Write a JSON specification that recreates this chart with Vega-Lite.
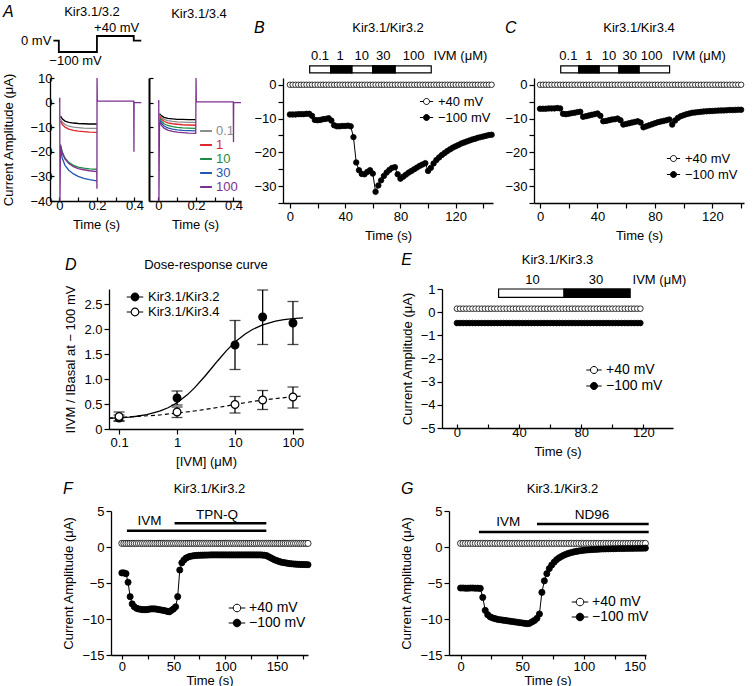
{
"$schema": "https://vega.github.io/schema/vega-lite/v6.json",
"padding": {"left": 2, "top": 4, "right": 0, "bottom": 0},
"config": {
  "font": "Liberation Sans",
  "view": {"stroke": null},
  "axis": {"grid": false, "domainColor": "black", "domainWidth": 1.3, "tickColor": "black", "tickWidth": 1.2, "tickSize": 5, "labelColor": "black", "labelFontSize": 13, "labelFont": "Liberation Sans", "titleColor": "black", "titleFontSize": 13, "titleFontWeight": "normal", "titleFont": "Liberation Sans", "labelPadding": 2, "titlePadding": 6, "labelOverlap": false},
  "axisX": {"titleFontWeight": "normal"},
  "axisY": {"titleFontWeight": "normal"},
  "legend": {"labelFont": "Liberation Sans", "labelFontSize": 13, "labelColor": "black"},
  "title": {"font": "Liberation Sans", "fontSize": 13, "fontWeight": "normal", "color": "black"},
  "text": {"font": "Liberation Sans", "fill": "black"}
},
"datasets": {
  "proto": [{"t":-0.032,"mv":0},{"t":-0.003,"mv":0},{"t":-0.0029,"mv":-100},{"t":0.2,"mv":-100},{"t":0.2001,"mv":40},{"t":0.396,"mv":40},{"t":0.3961,"mv":0},{"t":0.436,"mv":0}],
  "A1": [
    {"t":0.006,"i":-5.5,"c":"basal"},{"t":0.015,"i":-6.6,"c":"basal"},{"t":0.03,"i":-7.5,"c":"basal"},{"t":0.05,"i":-8,"c":"basal"},{"t":0.075,"i":-8.3,"c":"basal"},{"t":0.1,"i":-8.5,"c":"basal"},{"t":0.13,"i":-8.6,"c":"basal"},{"t":0.16,"i":-8.7,"c":"basal"},{"t":0.199,"i":-8.7,"c":"basal"},
    {"t":0.006,"i":-6.8,"c":"0.1"},{"t":0.015,"i":-7.9,"c":"0.1"},{"t":0.03,"i":-8.9,"c":"0.1"},{"t":0.05,"i":-9.6,"c":"0.1"},{"t":0.075,"i":-10,"c":"0.1"},{"t":0.1,"i":-10.2,"c":"0.1"},{"t":0.13,"i":-10.4,"c":"0.1"},{"t":0.16,"i":-10.5,"c":"0.1"},{"t":0.199,"i":-10.5,"c":"0.1"},
    {"t":0.006,"i":-7.5,"c":"1"},{"t":0.015,"i":-8.8,"c":"1"},{"t":0.03,"i":-10,"c":"1"},{"t":0.05,"i":-10.8,"c":"1"},{"t":0.075,"i":-11.3,"c":"1"},{"t":0.1,"i":-11.6,"c":"1"},{"t":0.13,"i":-11.8,"c":"1"},{"t":0.16,"i":-12,"c":"1"},{"t":0.199,"i":-12.1,"c":"1"},
    {"t":0.006,"i":-17,"c":"10"},{"t":0.015,"i":-20,"c":"10"},{"t":0.03,"i":-22.5,"c":"10"},{"t":0.05,"i":-24.3,"c":"10"},{"t":0.075,"i":-25.5,"c":"10"},{"t":0.1,"i":-26.2,"c":"10"},{"t":0.13,"i":-26.6,"c":"10"},{"t":0.16,"i":-26.9,"c":"10"},{"t":0.199,"i":-27.1,"c":"10"},
    {"t":0.006,"i":-19,"c":"30"},{"t":0.015,"i":-22.5,"c":"30"},{"t":0.03,"i":-25.5,"c":"30"},{"t":0.05,"i":-27.5,"c":"30"},{"t":0.075,"i":-29,"c":"30"},{"t":0.1,"i":-30,"c":"30"},{"t":0.13,"i":-30.8,"c":"30"},{"t":0.16,"i":-31.3,"c":"30"},{"t":0.199,"i":-31.8,"c":"30"},
    {"t":0.001,"i":0,"c":"100"},{"t":0.002,"i":2,"c":"100"},{"t":0.003,"i":-40,"c":"100"},{"t":0.006,"i":-17.5,"c":"100"},{"t":0.015,"i":-20.5,"c":"100"},{"t":0.03,"i":-23,"c":"100"},{"t":0.05,"i":-24.8,"c":"100"},{"t":0.075,"i":-26,"c":"100"},{"t":0.1,"i":-26.8,"c":"100"},{"t":0.13,"i":-27.3,"c":"100"},{"t":0.16,"i":-27.7,"c":"100"},{"t":0.199,"i":-28,"c":"100"},{"t":0.2,"i":-35,"c":"100"},{"t":0.2005,"i":10,"c":"100"},{"t":0.202,"i":0.6,"c":"100"},{"t":0.396,"i":0.6,"c":"100"},{"t":0.397,"i":-20,"c":"100"},{"t":0.398,"i":0,"c":"100"},{"t":0.436,"i":0,"c":"100"}
  ],
  "A2": [
    {"t":0.006,"i":-4.5,"c":"basal"},{"t":0.015,"i":-5.3,"c":"basal"},{"t":0.03,"i":-6,"c":"basal"},{"t":0.05,"i":-6.4,"c":"basal"},{"t":0.075,"i":-6.6,"c":"basal"},{"t":0.1,"i":-6.8,"c":"basal"},{"t":0.13,"i":-6.85,"c":"basal"},{"t":0.16,"i":-6.9,"c":"basal"},{"t":0.199,"i":-6.9,"c":"basal"},
    {"t":0.006,"i":-5,"c":"0.1"},{"t":0.015,"i":-6,"c":"0.1"},{"t":0.03,"i":-6.8,"c":"0.1"},{"t":0.05,"i":-7.3,"c":"0.1"},{"t":0.075,"i":-7.6,"c":"0.1"},{"t":0.1,"i":-7.8,"c":"0.1"},{"t":0.13,"i":-7.9,"c":"0.1"},{"t":0.16,"i":-8,"c":"0.1"},{"t":0.199,"i":-8,"c":"0.1"},
    {"t":0.006,"i":-5.6,"c":"1"},{"t":0.015,"i":-6.7,"c":"1"},{"t":0.03,"i":-7.6,"c":"1"},{"t":0.05,"i":-8.2,"c":"1"},{"t":0.075,"i":-8.6,"c":"1"},{"t":0.1,"i":-8.8,"c":"1"},{"t":0.13,"i":-9,"c":"1"},{"t":0.16,"i":-9.1,"c":"1"},{"t":0.199,"i":-9.2,"c":"1"},
    {"t":0.006,"i":-6.3,"c":"10"},{"t":0.015,"i":-7.5,"c":"10"},{"t":0.03,"i":-8.6,"c":"10"},{"t":0.05,"i":-9.3,"c":"10"},{"t":0.075,"i":-9.8,"c":"10"},{"t":0.1,"i":-10.1,"c":"10"},{"t":0.13,"i":-10.3,"c":"10"},{"t":0.16,"i":-10.4,"c":"10"},{"t":0.199,"i":-10.5,"c":"10"},
    {"t":0.006,"i":-7,"c":"30"},{"t":0.015,"i":-8.3,"c":"30"},{"t":0.03,"i":-9.5,"c":"30"},{"t":0.05,"i":-10.3,"c":"30"},{"t":0.075,"i":-10.8,"c":"30"},{"t":0.1,"i":-11.1,"c":"30"},{"t":0.13,"i":-11.3,"c":"30"},{"t":0.16,"i":-11.4,"c":"30"},{"t":0.199,"i":-11.5,"c":"30"},
    {"t":0.001,"i":0,"c":"100"},{"t":0.002,"i":1,"c":"100"},{"t":0.003,"i":-40,"c":"100"},{"t":0.006,"i":-7.8,"c":"100"},{"t":0.015,"i":-9.2,"c":"100"},{"t":0.03,"i":-10.4,"c":"100"},{"t":0.05,"i":-11.2,"c":"100"},{"t":0.075,"i":-11.7,"c":"100"},{"t":0.1,"i":-12,"c":"100"},{"t":0.13,"i":-12.2,"c":"100"},{"t":0.16,"i":-12.4,"c":"100"},{"t":0.199,"i":-12.5,"c":"100"},{"t":0.2005,"i":10,"c":"100"},{"t":0.202,"i":0.3,"c":"100"},{"t":0.399,"i":0.3,"c":"100"},{"t":0.4,"i":-16,"c":"100"},{"t":0.401,"i":0,"c":"100"},{"t":0.44,"i":0,"c":"100"}
  ],
  "segB": [{"a":14.3,"b":29.6,"c":"0.1","m":21.8,"k":0},{"a":29.6,"b":44.8,"c":"1","m":36.4,"k":1},{"a":44.8,"b":59.9,"c":"10","m":52,"k":0},{"a":59.9,"b":76.1,"c":"30","m":67.6,"k":1},{"a":76.1,"b":102.3,"c":"100","m":89.5,"k":0}],
  "segC": [{"a":14.4,"b":27.1,"c":"0.1","m":19.7,"k":0},{"a":27.1,"b":41.1,"c":"1","m":34,"k":1},{"a":41.1,"b":55,"c":"10","m":48,"k":0},{"a":55,"b":68.9,"c":"30","m":62.4,"k":1},{"a":68.9,"b":90.2,"c":"100","m":77.7,"k":0}],
  "segE": [{"a":26.8,"b":69,"c":"10","m":48.6,"k":0},{"a":69,"b":111.3,"c":"30","m":89.4,"k":1}],
  "B": [{"t":0,"p":0,"m":-8.8},{"t":2,"p":0,"m":-8.8},{"t":4,"p":0,"m":-8.8},{"t":6,"p":0,"m":-8.7},{"t":8,"p":0,"m":-8.7},{"t":10,"p":0,"m":-8.7},{"t":12,"p":0,"m":-8.6},{"t":14,"p":0,"m":-8.6},{"t":16,"p":0,"m":-9.2},{"t":18,"p":0,"m":-10.4},{"t":20,"p":0,"m":-10.5},{"t":22,"p":0,"m":-10.4},{"t":24,"p":0,"m":-10.2},{"t":26,"p":0,"m":-10.1},{"t":28,"p":0,"m":-9.9},{"t":30,"p":0,"m":-10.6},{"t":32,"p":0,"m":-12},{"t":34,"p":0,"m":-12.3},{"t":36,"p":0,"m":-12.3},{"t":38,"p":0,"m":-12.2},{"t":40,"p":0,"m":-12.2},{"t":42,"p":0,"m":-12.1},{"t":44,"p":0,"m":-12.3},{"t":46,"p":0,"m":-15.5},{"t":48,"p":0,"m":-23},{"t":50,"p":0,"m":-25.3},{"t":52,"p":0,"m":-26.4},{"t":54,"p":0,"m":-26.5},{"t":56,"p":0,"m":-25.8},{"t":58,"p":0,"m":-25.3},{"t":60,"p":0,"m":-26.3},{"t":62,"p":0,"m":-31.7},{"t":64,"p":0,"m":-29.8},{"t":66,"p":0,"m":-28.3},{"t":68,"p":0,"m":-27},{"t":70,"p":0,"m":-26},{"t":72,"p":0,"m":-25.2},{"t":74,"p":0,"m":-24.6},{"t":76,"p":0,"m":-24.4},{"t":78,"p":0,"m":-26.5},{"t":80,"p":0,"m":-27.8},{"t":82,"p":0,"m":-27.2},{"t":84,"p":0,"m":-26.6},{"t":86,"p":0,"m":-26},{"t":88,"p":0,"m":-25.5},{"t":90,"p":0,"m":-25},{"t":92,"p":0,"m":-24.5},{"t":94,"p":0,"m":-24},{"t":96,"p":0,"m":-23.6},{"t":98,"p":0,"m":-23.2},{"t":100,"p":0,"m":-25.5},{"t":102,"p":0,"m":-24.6},{"t":104,"p":0,"m":-23.3},{"t":106,"p":0,"m":-22.3},{"t":108,"p":0,"m":-21.5},{"t":110,"p":0,"m":-20.8},{"t":112,"p":0,"m":-20.2},{"t":114,"p":0,"m":-19.6},{"t":116,"p":0,"m":-19.1},{"t":118,"p":0,"m":-18.6},{"t":120,"p":0,"m":-18.2},{"t":122,"p":0,"m":-17.8},{"t":124,"p":0,"m":-17.4},{"t":126,"p":0,"m":-17.1},{"t":128,"p":0,"m":-16.8},{"t":130,"p":0,"m":-16.5},{"t":132,"p":0,"m":-16.2},{"t":134,"p":0,"m":-16},{"t":136,"p":0,"m":-15.7},{"t":138,"p":0,"m":-15.5},{"t":140,"p":0,"m":-15.3},{"t":142,"p":0,"m":-15.1},{"t":144,"p":0,"m":-14.9},{"t":146,"p":0,"m":-14.8}],
  "C": [{"t":0,"p":0,"m":-7.1},{"t":2,"p":0,"m":-7.1},{"t":4,"p":0,"m":-7.1},{"t":6,"p":0,"m":-7},{"t":8,"p":0,"m":-7},{"t":10,"p":0,"m":-7},{"t":12,"p":0,"m":-6.9},{"t":14,"p":0,"m":-7},{"t":16,"p":0,"m":-8.6},{"t":18,"p":0,"m":-8.7},{"t":20,"p":0,"m":-8.6},{"t":22,"p":0,"m":-8.4},{"t":24,"p":0,"m":-8.3},{"t":26,"p":0,"m":-8.1},{"t":28,"p":0,"m":-8},{"t":30,"p":0,"m":-9.5},{"t":32,"p":0,"m":-9.3},{"t":34,"p":0,"m":-9.1},{"t":36,"p":0,"m":-8.9},{"t":38,"p":0,"m":-8.7},{"t":40,"p":0,"m":-8.5},{"t":42,"p":0,"m":-9.2},{"t":44,"p":0,"m":-10.8},{"t":46,"p":0,"m":-10.7},{"t":48,"p":0,"m":-10.5},{"t":50,"p":0,"m":-10.3},{"t":52,"p":0,"m":-10.2},{"t":54,"p":0,"m":-10},{"t":56,"p":0,"m":-10.5},{"t":58,"p":0,"m":-11.8},{"t":60,"p":0,"m":-11.6},{"t":62,"p":0,"m":-11.4},{"t":64,"p":0,"m":-11.2},{"t":66,"p":0,"m":-11},{"t":68,"p":0,"m":-10.8},{"t":70,"p":0,"m":-11.2},{"t":72,"p":0,"m":-12.6},{"t":74,"p":0,"m":-12.3},{"t":76,"p":0,"m":-12},{"t":78,"p":0,"m":-11.7},{"t":80,"p":0,"m":-11.4},{"t":82,"p":0,"m":-11.1},{"t":84,"p":0,"m":-10.9},{"t":86,"p":0,"m":-10.7},{"t":88,"p":0,"m":-10.5},{"t":90,"p":0,"m":-10.3},{"t":92,"p":0,"m":-11.8},{"t":94,"p":0,"m":-10.6},{"t":96,"p":0,"m":-9.8},{"t":98,"p":0,"m":-9.3},{"t":100,"p":0,"m":-9},{"t":102,"p":0,"m":-8.7},{"t":104,"p":0,"m":-8.5},{"t":106,"p":0,"m":-8.3},{"t":108,"p":0,"m":-8.2},{"t":110,"p":0,"m":-8.1},{"t":112,"p":0,"m":-8},{"t":114,"p":0,"m":-7.9},{"t":116,"p":0,"m":-7.85},{"t":118,"p":0,"m":-7.8},{"t":120,"p":0,"m":-7.75},{"t":122,"p":0,"m":-7.7},{"t":124,"p":0,"m":-7.65},{"t":126,"p":0,"m":-7.6},{"t":128,"p":0,"m":-7.6},{"t":130,"p":0,"m":-7.55},{"t":132,"p":0,"m":-7.5},{"t":134,"p":0,"m":-7.5},{"t":136,"p":0,"m":-7.45},{"t":138,"p":0,"m":-7.4},{"t":140,"p":0,"m":-7.4}],
  "E": [{"t":0,"p":0.15,"m":-0.47},{"t":2,"p":0.15,"m":-0.47},{"t":4,"p":0.15,"m":-0.47},{"t":6,"p":0.15,"m":-0.47},{"t":8,"p":0.15,"m":-0.47},{"t":10,"p":0.15,"m":-0.47},{"t":12,"p":0.15,"m":-0.47},{"t":14,"p":0.15,"m":-0.47},{"t":16,"p":0.15,"m":-0.47},{"t":18,"p":0.15,"m":-0.47},{"t":20,"p":0.15,"m":-0.47},{"t":22,"p":0.15,"m":-0.47},{"t":24,"p":0.15,"m":-0.47},{"t":26,"p":0.15,"m":-0.47},{"t":28,"p":0.15,"m":-0.47},{"t":30,"p":0.15,"m":-0.47},{"t":32,"p":0.15,"m":-0.47},{"t":34,"p":0.15,"m":-0.47},{"t":36,"p":0.15,"m":-0.47},{"t":38,"p":0.15,"m":-0.47},{"t":40,"p":0.15,"m":-0.47},{"t":42,"p":0.15,"m":-0.47},{"t":44,"p":0.15,"m":-0.47},{"t":46,"p":0.15,"m":-0.47},{"t":48,"p":0.15,"m":-0.47},{"t":50,"p":0.15,"m":-0.47},{"t":52,"p":0.15,"m":-0.47},{"t":54,"p":0.15,"m":-0.47},{"t":56,"p":0.15,"m":-0.47},{"t":58,"p":0.15,"m":-0.47},{"t":60,"p":0.15,"m":-0.47},{"t":62,"p":0.15,"m":-0.47},{"t":64,"p":0.15,"m":-0.47},{"t":66,"p":0.15,"m":-0.47},{"t":68,"p":0.15,"m":-0.47},{"t":70,"p":0.15,"m":-0.47},{"t":72,"p":0.15,"m":-0.47},{"t":74,"p":0.15,"m":-0.47},{"t":76,"p":0.15,"m":-0.47},{"t":78,"p":0.15,"m":-0.47},{"t":80,"p":0.15,"m":-0.47},{"t":82,"p":0.15,"m":-0.47},{"t":84,"p":0.15,"m":-0.47},{"t":86,"p":0.15,"m":-0.47},{"t":88,"p":0.15,"m":-0.47},{"t":90,"p":0.15,"m":-0.47},{"t":92,"p":0.15,"m":-0.47},{"t":94,"p":0.15,"m":-0.47},{"t":96,"p":0.15,"m":-0.47},{"t":98,"p":0.15,"m":-0.47},{"t":100,"p":0.15,"m":-0.47},{"t":102,"p":0.15,"m":-0.47},{"t":104,"p":0.15,"m":-0.47},{"t":106,"p":0.15,"m":-0.47},{"t":108,"p":0.15,"m":-0.47},{"t":110,"p":0.15,"m":-0.47},{"t":112,"p":0.15,"m":-0.47},{"t":114,"p":0.15,"m":-0.47},{"t":116,"p":0.15,"m":-0.47},{"t":118,"p":0.15,"m":-0.47}],
  "F": [{"t":0,"p":0.5,"m":-3.6},{"t":2,"p":0.5,"m":-3.6},{"t":4,"p":0.5,"m":-3.7},{"t":6,"p":0.5,"m":-4.9},{"t":8,"p":0.5,"m":-6.9},{"t":10,"p":0.5,"m":-7.9},{"t":12,"p":0.5,"m":-8.3},{"t":14,"p":0.5,"m":-8.5},{"t":16,"p":0.5,"m":-8.6},{"t":18,"p":0.5,"m":-8.65},{"t":20,"p":0.5,"m":-8.7},{"t":22,"p":0.5,"m":-8.7},{"t":24,"p":0.5,"m":-8.7},{"t":26,"p":0.5,"m":-8.65},{"t":28,"p":0.5,"m":-8.6},{"t":30,"p":0.5,"m":-8.6},{"t":32,"p":0.5,"m":-8.6},{"t":34,"p":0.5,"m":-8.65},{"t":36,"p":0.5,"m":-8.7},{"t":38,"p":0.5,"m":-8.75},{"t":40,"p":0.5,"m":-8.8},{"t":42,"p":0.5,"m":-8.85},{"t":44,"p":0.5,"m":-8.95},{"t":46,"p":0.5,"m":-9},{"t":48,"p":0.5,"m":-8.8},{"t":50,"p":0.5,"m":-8.6},{"t":52,"p":0.5,"m":-8.3},{"t":54,"p":0.5,"m":-6.9},{"t":56,"p":0.5,"m":-3.2},{"t":58,"p":0.5,"m":-2.2},{"t":60,"p":0.5,"m":-1.8},{"t":62,"p":0.5,"m":-1.55},{"t":64,"p":0.5,"m":-1.4},{"t":66,"p":0.5,"m":-1.3},{"t":68,"p":0.5,"m":-1.25},{"t":70,"p":0.5,"m":-1.2},{"t":72,"p":0.5,"m":-1.17},{"t":74,"p":0.5,"m":-1.15},{"t":76,"p":0.5,"m":-1.14},{"t":78,"p":0.5,"m":-1.13},{"t":80,"p":0.5,"m":-1.12},{"t":82,"p":0.5,"m":-1.12},{"t":84,"p":0.5,"m":-1.11},{"t":86,"p":0.5,"m":-1.1},{"t":88,"p":0.5,"m":-1.1},{"t":90,"p":0.5,"m":-1.1},{"t":92,"p":0.5,"m":-1.1},{"t":94,"p":0.5,"m":-1.1},{"t":96,"p":0.5,"m":-1.1},{"t":98,"p":0.5,"m":-1.1},{"t":100,"p":0.5,"m":-1.1},{"t":102,"p":0.5,"m":-1.1},{"t":104,"p":0.5,"m":-1.1},{"t":106,"p":0.5,"m":-1.1},{"t":108,"p":0.5,"m":-1.1},{"t":110,"p":0.5,"m":-1.1},{"t":112,"p":0.5,"m":-1.1},{"t":114,"p":0.5,"m":-1.1},{"t":116,"p":0.5,"m":-1.1},{"t":118,"p":0.5,"m":-1.1},{"t":120,"p":0.5,"m":-1.1},{"t":122,"p":0.5,"m":-1.1},{"t":124,"p":0.5,"m":-1.1},{"t":126,"p":0.5,"m":-1.1},{"t":128,"p":0.5,"m":-1.1},{"t":130,"p":0.5,"m":-1.1},{"t":132,"p":0.5,"m":-1.1},{"t":134,"p":0.5,"m":-1.1},{"t":136,"p":0.5,"m":-1.12},{"t":138,"p":0.5,"m":-1.15},{"t":140,"p":0.5,"m":-1.2},{"t":142,"p":0.5,"m":-1.35},{"t":144,"p":0.5,"m":-1.5},{"t":146,"p":0.5,"m":-1.65},{"t":148,"p":0.5,"m":-1.8},{"t":150,"p":0.5,"m":-1.9},{"t":152,"p":0.5,"m":-2},{"t":154,"p":0.5,"m":-2.1},{"t":156,"p":0.5,"m":-2.15},{"t":158,"p":0.5,"m":-2.2},{"t":160,"p":0.5,"m":-2.25},{"t":162,"p":0.5,"m":-2.3},{"t":164,"p":0.5,"m":-2.33},{"t":166,"p":0.5,"m":-2.36},{"t":168,"p":0.5,"m":-2.38},{"t":170,"p":0.5,"m":-2.4},{"t":172,"p":0.5,"m":-2.42},{"t":174,"p":0.5,"m":-2.43},{"t":176,"p":0.5,"m":-2.44},{"t":178,"p":0.5,"m":-2.45},{"t":180,"p":0.5,"m":-2.46}],
  "G": [{"t":0,"p":0.5,"m":-5.7},{"t":2,"p":0.5,"m":-5.7},{"t":4,"p":0.5,"m":-5.72},{"t":6,"p":0.5,"m":-5.72},{"t":8,"p":0.5,"m":-5.7},{"t":10,"p":0.5,"m":-5.7},{"t":12,"p":0.5,"m":-5.72},{"t":14,"p":0.5,"m":-5.72},{"t":16,"p":0.5,"m":-5.75},{"t":18,"p":0.5,"m":-7},{"t":20,"p":0.5,"m":-8.8},{"t":22,"p":0.5,"m":-9.4},{"t":24,"p":0.5,"m":-9.7},{"t":26,"p":0.5,"m":-9.85},{"t":28,"p":0.5,"m":-9.95},{"t":30,"p":0.5,"m":-10.05},{"t":32,"p":0.5,"m":-10.1},{"t":34,"p":0.5,"m":-10.15},{"t":36,"p":0.5,"m":-10.2},{"t":38,"p":0.5,"m":-10.25},{"t":40,"p":0.5,"m":-10.3},{"t":42,"p":0.5,"m":-10.35},{"t":44,"p":0.5,"m":-10.4},{"t":46,"p":0.5,"m":-10.45},{"t":48,"p":0.5,"m":-10.5},{"t":50,"p":0.5,"m":-10.55},{"t":52,"p":0.5,"m":-10.6},{"t":54,"p":0.5,"m":-10.65},{"t":56,"p":0.5,"m":-10.6},{"t":58,"p":0.5,"m":-10.4},{"t":60,"p":0.5,"m":-10.2},{"t":62,"p":0.5,"m":-9.9},{"t":64,"p":0.5,"m":-9.3},{"t":66,"p":0.5,"m":-6.3},{"t":68,"p":0.5,"m":-4.7},{"t":70,"p":0.5,"m":-3.7},{"t":72,"p":0.5,"m":-3},{"t":74,"p":0.5,"m":-2.5},{"t":76,"p":0.5,"m":-2.1},{"t":78,"p":0.5,"m":-1.75},{"t":80,"p":0.5,"m":-1.5},{"t":82,"p":0.5,"m":-1.3},{"t":84,"p":0.5,"m":-1.12},{"t":86,"p":0.5,"m":-0.98},{"t":88,"p":0.5,"m":-0.86},{"t":90,"p":0.5,"m":-0.76},{"t":92,"p":0.5,"m":-0.68},{"t":94,"p":0.5,"m":-0.61},{"t":96,"p":0.5,"m":-0.55},{"t":98,"p":0.5,"m":-0.5},{"t":100,"p":0.5,"m":-0.45},{"t":102,"p":0.5,"m":-0.42},{"t":104,"p":0.5,"m":-0.39},{"t":106,"p":0.5,"m":-0.36},{"t":108,"p":0.5,"m":-0.34},{"t":110,"p":0.5,"m":-0.32},{"t":112,"p":0.5,"m":-0.3},{"t":114,"p":0.5,"m":-0.28},{"t":116,"p":0.5,"m":-0.27},{"t":118,"p":0.5,"m":-0.26},{"t":120,"p":0.5,"m":-0.25},{"t":122,"p":0.5,"m":-0.24},{"t":124,"p":0.5,"m":-0.23},{"t":126,"p":0.5,"m":-0.22},{"t":128,"p":0.5,"m":-0.21},{"t":130,"p":0.5,"m":-0.2},{"t":132,"p":0.5,"m":-0.2},{"t":134,"p":0.5,"m":-0.19},{"t":136,"p":0.5,"m":-0.19},{"t":138,"p":0.5,"m":-0.18},{"t":140,"p":0.5,"m":-0.18},{"t":142,"p":0.5,"m":-0.17},{"t":144,"p":0.5,"m":-0.17},{"t":146,"p":0.5,"m":-0.16},{"t":148,"p":0.5,"m":-0.16},{"t":150,"p":0.5,"m":-0.15}],
  "dpts": [{"x":0.1,"y":0.22,"lo":0.16,"hi":0.28,"g":"Kir3.1/Kir3.2"},{"x":1,"y":0.62,"lo":0.48,"hi":0.76,"g":"Kir3.1/Kir3.2"},{"x":10,"y":1.68,"lo":1.19,"hi":2.17,"g":"Kir3.1/Kir3.2"},{"x":30,"y":2.24,"lo":1.69,"hi":2.78,"g":"Kir3.1/Kir3.2"},{"x":100,"y":2.12,"lo":1.69,"hi":2.55,"g":"Kir3.1/Kir3.2"},{"x":0.1,"y":0.25,"lo":0.16,"hi":0.34,"g":"Kir3.1/Kir3.4"},{"x":1,"y":0.34,"lo":0.23,"hi":0.44,"g":"Kir3.1/Kir3.4"},{"x":10,"y":0.49,"lo":0.32,"hi":0.65,"g":"Kir3.1/Kir3.4"},{"x":30,"y":0.58,"lo":0.39,"hi":0.77,"g":"Kir3.1/Kir3.4"},{"x":100,"y":0.64,"lo":0.42,"hi":0.84,"g":"Kir3.1/Kir3.4"}],
  "fit": [{"x":0.067,"y":0.215,"g":"s"},{"x":0.1,"y":0.224,"g":"s"},{"x":0.15,"y":0.239,"g":"s"},{"x":0.2,"y":0.255,"g":"s"},{"x":0.3,"y":0.288,"g":"s"},{"x":0.5,"y":0.356,"g":"s"},{"x":0.7,"y":0.425,"g":"s"},{"x":1,"y":0.526,"g":"s"},{"x":1.5,"y":0.683,"g":"s"},{"x":2,"y":0.822,"g":"s"},{"x":3,"y":1.05,"g":"s"},{"x":4,"y":1.225,"g":"s"},{"x":5,"y":1.361,"g":"s"},{"x":7,"y":1.557,"g":"s"},{"x":10,"y":1.738,"g":"s"},{"x":15,"y":1.901,"g":"s"},{"x":20,"y":1.99,"g":"s"},{"x":30,"y":2.082,"g":"s"},{"x":50,"y":2.156,"g":"s"},{"x":70,"y":2.186,"g":"s"},{"x":100,"y":2.208,"g":"s"},{"x":149,"y":2.224,"g":"s"},
    {"x":0.067,"y":0.22,"g":"d"},{"x":0.1,"y":0.23,"g":"d"},{"x":0.2,"y":0.25,"g":"d"},{"x":0.5,"y":0.28,"g":"d"},{"x":1,"y":0.32,"g":"d"},{"x":2,"y":0.36,"g":"d"},{"x":5,"y":0.43,"g":"d"},{"x":10,"y":0.49,"g":"d"},{"x":20,"y":0.55,"g":"d"},{"x":30,"y":0.58,"g":"d"},{"x":50,"y":0.61,"g":"d"},{"x":100,"y":0.645,"g":"d"},{"x":149,"y":0.66,"g":"d"}]
},
"spacing": 10,
"resolve": {"scale": {"x":"independent","y":"independent","fill":"independent","color":"independent"}, "legend": {"fill":"independent","color":"independent"}},
"vconcat": [
 {
  "spacing": 10,
  "resolve": {"scale": {"x":"independent","y":"independent","fill":"independent","color":"independent"}, "legend": {"fill":"independent","color":"independent"}},
  "hconcat": [
   {
    "title": {"text": "A", "anchor": "start", "fontSize": 16, "fontStyle": "italic", "offset": -14},
    "spacing": 3,
    "resolve": {"scale": {"x":"independent","y":"independent","fill":"independent","color":"independent"}, "legend": {"fill":"independent","color":"independent"}},
    "hconcat": [
     {
      "width": 92, "height": 123,
      "title": {"text": "Kir3.1/3.2", "anchor": "middle", "frame": "group", "dx": -4, "offset": 3},
      "resolve": {"scale": {"y": "independent"}, "axis": {"y": "independent"}},
      "layer": [
       {
        "data": {"name": "A1"},
        "layer": [
         {"transform": [{"filter": "datum.c == 'basal'"}], "mark": {"type": "line", "stroke": "black", "strokeWidth": 1.3, "clip": true},
          "encoding": {
           "x": {"field": "t", "type": "quantitative", "title": "Time (s)", "scale": {"domain": [-0.05, 0.44], "nice": false, "zero": false}, "axis": {"values": [0, 0.1, 0.2, 0.3, 0.4], "tickCount": 50, "labelExpr": "datum.value == 0 ? '0' : (abs(datum.value - 0.2) < 0.001 || abs(datum.value - 0.4) < 0.001) ? format(datum.value, '.1f') : ''", "tickSize": -4}},
           "y": {"field": "i", "type": "quantitative", "title": "Current Amplitude (μA)", "scale": {"domain": [-40, 10], "nice": false, "zero": false}, "axis": {"values": [10, 0, -10, -20, -30, -40], "tickCount": 50, "format": "~g", "tickSize": -4, "titlePadding": 14}}}},
         {"transform": [{"filter": "datum.c != 'basal'"}], "mark": {"type": "line", "strokeWidth": 1.3, "clip": true},
          "encoding": {
           "x": {"field": "t", "type": "quantitative", "title": "Time (s)"},
           "y": {"field": "i", "type": "quantitative", "title": "Current Amplitude (μA)"},
           "color": {"field": "c", "type": "nominal", "scale": {"domain": ["0.1", "1", "10", "30", "100"], "range": ["#8c8c8c", "#e0262b", "#1e8c45", "#2356b0", "#7d2f8e"]}, "legend": null}}}
        ]
       },
       {
        "layer": [
         {"data": {"name": "proto"}, "mark": {"type": "line", "stroke": "black", "strokeWidth": 1.8, "clip": false},
          "encoding": {"x": {"field": "t", "type": "quantitative", "title": "Time (s)"}, "y": {"field": "mv", "type": "quantitative", "scale": {"domain": [-1403.75, -327.5], "nice": false, "zero": false}, "axis": null}}},
         {"data": {"values": [{"t": -0.043, "mv": 0, "s": "0 mV"}]}, "mark": {"type": "text", "align": "right", "baseline": "middle", "fontSize": 13},
          "encoding": {"x": {"field": "t", "type": "quantitative", "title": "Time (s)"}, "y": {"field": "mv", "type": "quantitative", "axis": null}, "text": {"field": "s"}}},
         {"data": {"values": [{"t": 0.086, "mv": -100, "s": "−100 mV"}]}, "mark": {"type": "text", "align": "center", "baseline": "top", "dy": 3, "fontSize": 13},
          "encoding": {"x": {"field": "t", "type": "quantitative", "title": "Time (s)"}, "y": {"field": "mv", "type": "quantitative", "axis": null}, "text": {"field": "s"}}},
         {"data": {"values": [{"t": 0.305, "mv": 40, "s": "+40 mV"}]}, "mark": {"type": "text", "align": "center", "baseline": "bottom", "dy": -1, "fontSize": 13},
          "encoding": {"x": {"field": "t", "type": "quantitative", "title": "Time (s)"}, "y": {"field": "mv", "type": "quantitative", "axis": null}, "text": {"field": "s"}}}
        ]
       }
      ]
     },
     {
      "width": 92, "height": 123,
      "title": {"text": "Kir3.1/3.4", "anchor": "middle", "frame": "group", "dx": 4, "offset": 56},
      "data": {"name": "A2"},
      "layer": [
       {"transform": [{"filter": "datum.c == 'basal'"}], "mark": {"type": "line", "stroke": "black", "strokeWidth": 1.3, "clip": true},
        "encoding": {
         "x": {"field": "t", "type": "quantitative", "title": "Time (s)", "scale": {"domain": [-0.05, 0.44], "nice": false, "zero": false}, "axis": {"values": [0, 0.1, 0.2, 0.3, 0.4], "tickCount": 50, "labelExpr": "datum.value == 0 ? '0' : (abs(datum.value - 0.2) < 0.001 || abs(datum.value - 0.4) < 0.001) ? format(datum.value, '.1f') : ''", "tickSize": -4}},
         "y": {"field": "i", "type": "quantitative", "title": null, "scale": {"domain": [-40, 10], "nice": false, "zero": false}, "axis": {"values": [10, 0, -10, -20, -30, -40], "tickCount": 50, "tickSize": -4, "labels": false, "domainWidth": 2}}}},
       {"transform": [{"filter": "datum.c != 'basal'"}], "mark": {"type": "line", "strokeWidth": 1.3, "clip": true},
        "encoding": {
         "x": {"field": "t", "type": "quantitative", "title": "Time (s)"},
         "y": {"field": "i", "type": "quantitative", "title": null},
         "color": {"field": "c", "type": "nominal", "scale": {"domain": ["0.1", "1", "10", "30", "100"], "range": ["#8c8c8c", "#e0262b", "#1e8c45", "#2356b0", "#7d2f8e"]},
          "legend": {"title": null, "orient": "none", "legendX": 50, "legendY": 46, "symbolType": "stroke", "symbolStrokeWidth": 2, "symbolSize": 140, "labelFontSize": 13, "rowPadding": 0, "labelOffset": 3,
           "encode": {"labels": {"update": {"fill": {"signal": "datum.label == '0.1' ? '#8c8c8c' : datum.label == '1' ? '#e0262b' : datum.label == '10' ? '#1e8c45' : datum.label == '30' ? '#2356b0' : '#7d2f8e'"}}}}}}}}
      ]
     }
    ]
   },
   {
    "spacing": 8,
    "resolve": {"scale": {"x":"independent","y":"independent","fill":"independent","color":"independent"}, "legend": {"fill":"independent","color":"independent"}},
    "hconcat": [
     {
      "title": {"text": "B", "anchor": "start", "fontSize": 16, "fontStyle": "italic", "offset": -14},
      "resolve": {"scale": {"x":"independent","y":"independent","fill":"independent","color":"independent"}, "legend": {"fill":"independent","color":"independent"}},
      "vconcat": [
       {
        "width": 210, "height": 125,
        "title": {"text": "Kir3.1/Kir3.2", "anchor": "middle", "frame": "group", "offset": 15},
        "layer": [
         {"data": {"name": "segB"}, "mark": {"type": "rect", "fill": "white", "stroke": "black", "strokeWidth": 1.2},
          "encoding": {"x": {"field": "a", "type": "quantitative", "title": "Time (s)", "scale": {"domain": [-5, 147], "nice": false, "zero": false}, "axis": {"values": [0, 20, 40, 60, 80, 100, 120, 140], "tickCount": 50, "labelExpr": "datum.value % 40 == 0 ? datum.label : ''"}}, "x2": {"field": "b"}, "y": {"datum": 3.5, "scale": {"domain": [-35, 2], "nice": false, "zero": false}, "axis": {"values": [0, -5, -10, -15, -20, -25, -30, -35], "tickCount": 50, "labelExpr": "datum.value % 10 == 0 ? datum.label : ''", "title": null}}, "y2": {"datum": 5.6}}},
         {"data": {"name": "segB"}, "transform": [{"filter": "datum.k == 1"}], "mark": {"type": "rect", "fill": "black", "stroke": "black", "strokeWidth": 1.2},
          "encoding": {"x": {"field": "a", "type": "quantitative", "title": "Time (s)"}, "x2": {"field": "b"}, "y": {"datum": 3.5}, "y2": {"datum": 5.6}}},
         {"data": {"name": "segB"}, "mark": {"type": "text", "baseline": "alphabetic", "fontSize": 13},
          "encoding": {"x": {"field": "m", "type": "quantitative", "title": "Time (s)"}, "y": {"datum": 7.2}, "text": {"field": "c"}}},
         {"data": {"values": [{"t": 104, "s": "IVM (μM)"}]}, "mark": {"type": "text", "align": "left", "baseline": "alphabetic", "fontSize": 13},
          "encoding": {"x": {"field": "t", "type": "quantitative", "title": "Time (s)"}, "y": {"datum": 7.2}, "text": {"field": "s"}}},
         {"data": {"name": "B"}, "transform": [{"fold": ["p", "m"], "as": ["s", "y"]}, {"filter": "datum.s == 'm'"}], "mark": {"type": "line", "stroke": "black", "strokeWidth": 1},
          "encoding": {"x": {"field": "t", "type": "quantitative", "title": "Time (s)"}, "y": {"field": "y", "type": "quantitative", "title": null}}},
         {"data": {"name": "B"}, "transform": [{"fold": ["p", "m"], "as": ["s", "y"]}], "mark": {"type": "circle", "size": 30, "stroke": "black", "strokeWidth": 0.8, "opacity": 1},
          "encoding": {"x": {"field": "t", "type": "quantitative", "title": "Time (s)"}, "y": {"field": "y", "type": "quantitative", "title": null},
           "fill": {"field": "s", "type": "nominal", "scale": {"domain": ["p", "m"], "range": ["white", "black"]},
            "legend": {"title": null, "orient": "none", "legendX": 137, "legendY": 17, "labelExpr": "datum.value == 'p' ? '+40 mV' : '−100 mV'", "symbolType": "M -1.35 0 L -0.62 0 M 0.62 0 L 1.35 0 M 0.62 0 A 0.62 0.62 0 1 1 -0.62 0 A 0.62 0.62 0 1 1 0.62 0 Z", "symbolSize": 95, "symbolStrokeColor": "black", "symbolStrokeWidth": 1, "labelFontSize": 13, "rowPadding": 2, "labelOffset": 5}}}}
        ]
       }
      ]
     },
     {
      "title": {"text": "C", "anchor": "start", "fontSize": 16, "fontStyle": "italic", "offset": -14},
      "resolve": {"scale": {"x":"independent","y":"independent","fill":"independent","color":"independent"}, "legend": {"fill":"independent","color":"independent"}},
      "vconcat": [
       {
        "width": 210, "height": 125,
        "title": {"text": "Kir3.1/Kir3.4", "anchor": "middle", "frame": "group", "offset": 15},
        "layer": [
         {"data": {"name": "segC"}, "mark": {"type": "rect", "fill": "white", "stroke": "black", "strokeWidth": 1.2},
          "encoding": {"x": {"field": "a", "type": "quantitative", "title": "Time (s)", "scale": {"domain": [-4.2, 142], "nice": false, "zero": false}, "axis": {"values": [0, 20, 40, 60, 80, 100, 120, 140], "tickCount": 50, "labelExpr": "datum.value % 40 == 0 ? datum.label : ''"}}, "x2": {"field": "b"}, "y": {"datum": 3.5, "scale": {"domain": [-35, 2], "nice": false, "zero": false}, "axis": {"values": [0, -5, -10, -15, -20, -25, -30, -35], "tickCount": 50, "labelExpr": "datum.value % 10 == 0 ? datum.label : ''", "title": null}}, "y2": {"datum": 5.6}}},
         {"data": {"name": "segC"}, "transform": [{"filter": "datum.k == 1"}], "mark": {"type": "rect", "fill": "black", "stroke": "black", "strokeWidth": 1.2},
          "encoding": {"x": {"field": "a", "type": "quantitative", "title": "Time (s)"}, "x2": {"field": "b"}, "y": {"datum": 3.5}, "y2": {"datum": 5.6}}},
         {"data": {"name": "segC"}, "mark": {"type": "text", "baseline": "alphabetic", "fontSize": 13},
          "encoding": {"x": {"field": "m", "type": "quantitative", "title": "Time (s)"}, "y": {"datum": 7.2}, "text": {"field": "c"}}},
         {"data": {"values": [{"t": 92, "s": "IVM (μM)"}]}, "mark": {"type": "text", "align": "left", "baseline": "alphabetic", "fontSize": 13},
          "encoding": {"x": {"field": "t", "type": "quantitative", "title": "Time (s)"}, "y": {"datum": 7.2}, "text": {"field": "s"}}},
         {"data": {"name": "C"}, "transform": [{"fold": ["p", "m"], "as": ["s", "y"]}, {"filter": "datum.s == 'm'"}], "mark": {"type": "line", "stroke": "black", "strokeWidth": 1},
          "encoding": {"x": {"field": "t", "type": "quantitative", "title": "Time (s)"}, "y": {"field": "y", "type": "quantitative", "title": null}}},
         {"data": {"name": "C"}, "transform": [{"fold": ["p", "m"], "as": ["s", "y"]}], "mark": {"type": "circle", "size": 30, "stroke": "black", "strokeWidth": 0.8, "opacity": 1},
          "encoding": {"x": {"field": "t", "type": "quantitative", "title": "Time (s)"}, "y": {"field": "y", "type": "quantitative", "title": null},
           "fill": {"field": "s", "type": "nominal", "scale": {"domain": ["p", "m"], "range": ["white", "black"]},
            "legend": {"title": null, "orient": "none", "legendX": 133, "legendY": 74, "labelExpr": "datum.value == 'p' ? '+40 mV' : '−100 mV'", "symbolType": "M -1.35 0 L -0.62 0 M 0.62 0 L 1.35 0 M 0.62 0 A 0.62 0.62 0 1 1 -0.62 0 A 0.62 0.62 0 1 1 0.62 0 Z", "symbolSize": 95, "symbolStrokeColor": "black", "symbolStrokeWidth": 1, "labelFontSize": 13, "rowPadding": 2, "labelOffset": 5}}}}
        ]
       }
      ]
     }
    ]
   }
  ]
 },
 {
  "spacing": 13,
  "resolve": {"scale": {"x":"independent","y":"independent","fill":"independent","color":"independent"}, "legend": {"fill":"independent","color":"independent"}},
  "vconcat": [
   {
    "spacing": 0,
    "resolve": {"scale": {"x":"independent","y":"independent","fill":"independent","color":"independent"}, "legend": {"fill":"independent","color":"independent"}},
    "hconcat": [
     {"width": 14, "height": 1, "data": {"values": []}, "mark": "point", "encoding": {}},
     {
      "spacing": 95,
      "resolve": {"scale": {"x":"independent","y":"independent","fill":"independent","color":"independent"}, "legend": {"fill":"independent","color":"independent"}},
      "hconcat": [
       {
        "title": {"text": "D", "anchor": "start", "fontSize": 16, "fontStyle": "italic", "offset": -14},
        "resolve": {"scale": {"x":"independent","y":"independent","fill":"independent","color":"independent"}, "legend": {"fill":"independent","color":"independent"}},
        "vconcat": [
         {
          "width": 194, "height": 140,
          "title": {"text": "Dose-response curve", "anchor": "middle", "frame": "group", "offset": 13},
          "layer": [
           {"data": {"name": "fit"}, "transform": [{"filter": "datum.g == 'd'"}], "mark": {"type": "line", "stroke": "black", "strokeWidth": 1.2, "strokeDash": [4, 3]},
            "encoding": {"x": {"field": "x", "type": "quantitative", "title": "[IVM] (μM)", "scale": {"type": "log", "domain": [0.067, 149], "nice": false}, "axis": {"values": [0.1, 1, 10, 100], "tickCount": 50, "format": "~g"}},
             "y": {"field": "y", "type": "quantitative", "title": "IIVM / IBasal at − 100 mV", "scale": {"domain": [0, 2.8], "nice": false, "zero": false}, "axis": {"values": [0, 0.5, 1, 1.5, 2, 2.5], "tickCount": 50, "labelExpr": "datum.value == 0 ? '0' : format(datum.value, '.1f')"}}}},
           {"data": {"name": "fit"}, "transform": [{"filter": "datum.g == 's'"}], "mark": {"type": "line", "stroke": "black", "strokeWidth": 1.3},
            "encoding": {"x": {"field": "x", "type": "quantitative", "title": "[IVM] (μM)"}, "y": {"field": "y", "type": "quantitative", "title": "IIVM / IBasal at − 100 mV"}}},
           {"data": {"name": "dpts"}, "mark": {"type": "errorbar", "ticks": {"size": 11, "thickness": 1.3, "color": "black"}, "rule": {"strokeWidth": 1.3, "color": "black"}},
            "encoding": {"x": {"field": "x", "type": "quantitative", "title": "[IVM] (μM)"}, "y": {"field": "lo", "type": "quantitative", "title": "IIVM / IBasal at − 100 mV"}, "y2": {"field": "hi"}}},
           {"data": {"name": "dpts"}, "mark": {"type": "circle", "size": 60, "stroke": "black", "strokeWidth": 1.2, "opacity": 1},
            "encoding": {"x": {"field": "x", "type": "quantitative", "title": "[IVM] (μM)"}, "y": {"field": "y", "type": "quantitative", "title": "IIVM / IBasal at − 100 mV"},
             "fill": {"field": "g", "type": "nominal", "scale": {"domain": ["Kir3.1/Kir3.2", "Kir3.1/Kir3.4"], "range": ["black", "white"]},
              "legend": {"title": null, "orient": "none", "legendX": 19, "legendY": 1, "symbolType": "M -1.35 0 L -0.62 0 M 0.62 0 L 1.35 0 M 0.62 0 A 0.62 0.62 0 1 1 -0.62 0 A 0.62 0.62 0 1 1 0.62 0 Z", "symbolSize": 150, "symbolStrokeColor": "black", "symbolStrokeWidth": 1.2, "labelFontSize": 13, "rowPadding": 1, "labelOffset": 6}}}}
          ]
         }
        ]
       },
       {
        "title": {"text": "E", "anchor": "start", "fontSize": 16, "fontStyle": "italic", "offset": -14},
        "resolve": {"scale": {"x":"independent","y":"independent","fill":"independent","color":"independent"}, "legend": {"fill":"independent","color":"independent"}},
        "vconcat": [
         {
          "width": 231, "height": 139,
          "title": {"text": "Kir3.1/Kir3.3", "anchor": "middle", "frame": "group", "offset": 7},
          "layer": [
           {"data": {"name": "segE"}, "mark": {"type": "rect", "fill": "white", "stroke": "black", "strokeWidth": 1.2},
            "encoding": {"x": {"field": "a", "type": "quantitative", "title": "Time (s)", "scale": {"domain": [-9.6, 139], "nice": false, "zero": false}, "axis": {"values": [0, 20, 40, 60, 80, 100, 120, 140], "tickCount": 50, "labelExpr": "datum.value % 40 == 0 ? datum.label : ''", "tickSize": -4}}, "x2": {"field": "b"},
             "y": {"datum": 0.64, "scale": {"domain": [-5, 1], "nice": false, "zero": false}, "axis": {"values": [1, 0, -1, -2, -3, -4, -5], "tickCount": 50, "format": "~g", "title": "Current Amplitude (μA)"}}, "y2": {"datum": 1}}},
           {"data": {"name": "segE"}, "transform": [{"filter": "datum.k == 1"}], "mark": {"type": "rect", "fill": "black", "stroke": "black", "strokeWidth": 1.2},
            "encoding": {"x": {"field": "a", "type": "quantitative", "title": "Time (s)"}, "x2": {"field": "b"}, "y": {"datum": 0.64}, "y2": {"datum": 1}}},
           {"data": {"name": "segE"}, "mark": {"type": "text", "baseline": "alphabetic", "fontSize": 13},
            "encoding": {"x": {"field": "m", "type": "quantitative", "title": "Time (s)"}, "y": {"datum": 1.2}, "text": {"field": "c"}}},
           {"data": {"values": [{"t": 113, "s": "IVM (μM)"}]}, "mark": {"type": "text", "align": "left", "baseline": "alphabetic", "fontSize": 13},
            "encoding": {"x": {"field": "t", "type": "quantitative", "title": "Time (s)"}, "y": {"datum": 1.2}, "text": {"field": "s"}}},
           {"data": {"name": "E"}, "transform": [{"fold": ["p", "m"], "as": ["s", "y"]}, {"filter": "datum.s == 'm'"}], "mark": {"type": "line", "stroke": "black", "strokeWidth": 1},
            "encoding": {"x": {"field": "t", "type": "quantitative", "title": "Time (s)"}, "y": {"field": "y", "type": "quantitative", "title": "Current Amplitude (μA)"}}},
           {"data": {"name": "E"}, "transform": [{"fold": ["p", "m"], "as": ["s", "y"]}], "mark": {"type": "circle", "size": 32, "stroke": "black", "strokeWidth": 0.8, "opacity": 1},
            "encoding": {"x": {"field": "t", "type": "quantitative", "title": "Time (s)"}, "y": {"field": "y", "type": "quantitative", "title": "Current Amplitude (μA)"},
             "fill": {"field": "s", "type": "nominal", "scale": {"domain": ["p", "m"], "range": ["white", "black"]},
              "legend": {"title": null, "orient": "none", "legendX": 145, "legendY": 74, "labelExpr": "datum.value == 'p' ? '+40 mV' : '−100 mV'", "symbolType": "M -1.35 0 L -0.62 0 M 0.62 0 L 1.35 0 M 0.62 0 A 0.62 0.62 0 1 1 -0.62 0 A 0.62 0.62 0 1 1 0.62 0 Z", "symbolSize": 130, "symbolStrokeColor": "black", "symbolStrokeWidth": 1, "labelFontSize": 14, "rowPadding": 2, "labelOffset": 5}}}}
          ]
         }
        ]
       }
      ]
     }
    ]
   },
   {
    "spacing": 0,
    "resolve": {"scale": {"x":"independent","y":"independent","fill":"independent","color":"independent"}, "legend": {"fill":"independent","color":"independent"}},
    "hconcat": [
     {"width": 12, "height": 1, "data": {"values": []}, "mark": "point", "encoding": {}},
     {
      "spacing": 87,
      "resolve": {"scale": {"x":"independent","y":"independent","fill":"independent","color":"independent"}, "legend": {"fill":"independent","color":"independent"}},
      "hconcat": [
       {
        "title": {"text": "F", "anchor": "start", "fontSize": 16, "fontStyle": "italic", "offset": -14},
        "resolve": {"scale": {"x":"independent","y":"independent","fill":"independent","color":"independent"}, "legend": {"fill":"independent","color":"independent"}},
        "vconcat": [
         {
          "width": 197, "height": 144,
          "title": {"text": "Kir3.1/Kir3.2", "anchor": "middle", "frame": "group", "offset": 9},
          "layer": [
           {"data": {"values": [{"a": 4.9, "b": 139.7}]}, "mark": {"type": "rule", "stroke": "black", "strokeWidth": 2.5},
            "encoding": {"x": {"field": "a", "type": "quantitative", "title": "Time (s)", "scale": {"domain": [-10.5, 180], "nice": false, "zero": false}, "axis": {"values": [0, 25, 50, 75, 100, 125, 150, 175], "tickCount": 50, "tickSize": 4, "labelPadding": 1, "titlePadding": 1, "labelExpr": "datum.value % 50 == 0 ? datum.label : ''"}}, "x2": {"field": "b"},
             "y": {"datum": 2.25, "scale": {"domain": [-15, 5], "nice": false, "zero": false}, "axis": {"values": [5, 0, -5, -10, -15], "tickCount": 50, "format": "~g", "title": "Current Amplitude (μA)"}}}},
           {"data": {"values": [{"a": 51, "b": 139.7}]}, "mark": {"type": "rule", "stroke": "black", "strokeWidth": 2.5},
            "encoding": {"x": {"field": "a", "type": "quantitative", "title": "Time (s)"}, "x2": {"field": "b"}, "y": {"datum": 3.29}}},
           {"data": {"values": [{"t": 26.8, "s": "IVM"}]}, "mark": {"type": "text", "baseline": "alphabetic", "fontSize": 13.5},
            "encoding": {"x": {"field": "t", "type": "quantitative", "title": "Time (s)"}, "y": {"datum": 3.0}, "text": {"field": "s"}}},
           {"data": {"values": [{"t": 92, "s": "TPN-Q"}]}, "mark": {"type": "text", "baseline": "alphabetic", "fontSize": 13.5},
            "encoding": {"x": {"field": "t", "type": "quantitative", "title": "Time (s)"}, "y": {"datum": 3.9}, "text": {"field": "s"}}},
           {"data": {"name": "F"}, "transform": [{"fold": ["p", "m"], "as": ["s", "y"]}, {"filter": "datum.s == 'm'"}], "mark": {"type": "line", "stroke": "black", "strokeWidth": 1},
            "encoding": {"x": {"field": "t", "type": "quantitative", "title": "Time (s)"}, "y": {"field": "y", "type": "quantitative", "title": "Current Amplitude (μA)"}}},
           {"data": {"name": "F"}, "transform": [{"fold": ["p", "m"], "as": ["s", "y"]}], "mark": {"type": "circle", "size": 38, "stroke": "black", "strokeWidth": 0.8, "opacity": 1},
            "encoding": {"x": {"field": "t", "type": "quantitative", "title": "Time (s)"}, "y": {"field": "y", "type": "quantitative", "title": "Current Amplitude (μA)"},
             "fill": {"field": "s", "type": "nominal", "scale": {"domain": ["p", "m"], "range": ["white", "black"]},
              "legend": {"title": null, "orient": "none", "legendX": 119, "legendY": 90, "labelExpr": "datum.value == 'p' ? '+40 mV' : '−100 mV'", "symbolType": "M -1.35 0 L -0.62 0 M 0.62 0 L 1.35 0 M 0.62 0 A 0.62 0.62 0 1 1 -0.62 0 A 0.62 0.62 0 1 1 0.62 0 Z", "symbolSize": 150, "symbolStrokeColor": "black", "symbolStrokeWidth": 1, "labelFontSize": 14, "rowPadding": 1, "labelOffset": 5}}}}
          ]
         }
        ]
       },
       {
        "title": {"text": "G", "anchor": "start", "fontSize": 16, "fontStyle": "italic", "offset": -14},
        "resolve": {"scale": {"x":"independent","y":"independent","fill":"independent","color":"independent"}, "legend": {"fill":"independent","color":"independent"}},
        "vconcat": [
         {
          "width": 197, "height": 144,
          "title": {"text": "Kir3.1/Kir3.2", "anchor": "middle", "frame": "group", "offset": 9, "dx": 15},
          "layer": [
           {"data": {"values": [{"a": 14.9, "b": 152.7}]}, "mark": {"type": "rule", "stroke": "black", "strokeWidth": 2.5},
            "encoding": {"x": {"field": "a", "type": "quantitative", "title": "Time (s)", "scale": {"domain": [-9.4, 150.5], "nice": false, "zero": false}, "axis": {"values": [0, 25, 50, 75, 100, 125, 150], "tickCount": 50, "tickSize": 4, "labelPadding": 1, "titlePadding": 1, "labelExpr": "datum.value % 50 == 0 ? datum.label : ''"}}, "x2": {"field": "b"},
             "y": {"datum": 2.1, "scale": {"domain": [-15, 5], "nice": false, "zero": false}, "axis": {"values": [5, 0, -5, -10, -15], "tickCount": 50, "format": "~g", "title": "Current Amplitude (μA)"}}}},
           {"data": {"values": [{"a": 62, "b": 152.7}]}, "mark": {"type": "rule", "stroke": "black", "strokeWidth": 2.5},
            "encoding": {"x": {"field": "a", "type": "quantitative", "title": "Time (s)"}, "x2": {"field": "b"}, "y": {"datum": 3.2}}},
           {"data": {"values": [{"t": 38.7, "s": "IVM"}]}, "mark": {"type": "text", "baseline": "alphabetic", "fontSize": 13.5},
            "encoding": {"x": {"field": "t", "type": "quantitative", "title": "Time (s)"}, "y": {"datum": 2.9}, "text": {"field": "s"}}},
           {"data": {"values": [{"t": 106.6, "s": "ND96"}]}, "mark": {"type": "text", "baseline": "alphabetic", "fontSize": 13.5},
            "encoding": {"x": {"field": "t", "type": "quantitative", "title": "Time (s)"}, "y": {"datum": 3.9}, "text": {"field": "s"}}},
           {"data": {"name": "G"}, "transform": [{"fold": ["p", "m"], "as": ["s", "y"]}, {"filter": "datum.s == 'm'"}], "mark": {"type": "line", "stroke": "black", "strokeWidth": 1},
            "encoding": {"x": {"field": "t", "type": "quantitative", "title": "Time (s)"}, "y": {"field": "y", "type": "quantitative", "title": "Current Amplitude (μA)"}}},
           {"data": {"name": "G"}, "transform": [{"fold": ["p", "m"], "as": ["s", "y"]}], "mark": {"type": "circle", "size": 38, "stroke": "black", "strokeWidth": 0.8, "opacity": 1},
            "encoding": {"x": {"field": "t", "type": "quantitative", "title": "Time (s)"}, "y": {"field": "y", "type": "quantitative", "title": "Current Amplitude (μA)"},
             "fill": {"field": "s", "type": "nominal", "scale": {"domain": ["p", "m"], "range": ["white", "black"]},
              "legend": {"title": null, "orient": "none", "legendX": 124, "legendY": 84, "labelExpr": "datum.value == 'p' ? '+40 mV' : '−100 mV'", "symbolType": "M -1.35 0 L -0.62 0 M 0.62 0 L 1.35 0 M 0.62 0 A 0.62 0.62 0 1 1 -0.62 0 A 0.62 0.62 0 1 1 0.62 0 Z", "symbolSize": 150, "symbolStrokeColor": "black", "symbolStrokeWidth": 1, "labelFontSize": 14, "rowPadding": 1, "labelOffset": 5}}}}
          ]
         }
        ]
       }
      ]
     }
    ]
   }
  ]
 }
]
}
